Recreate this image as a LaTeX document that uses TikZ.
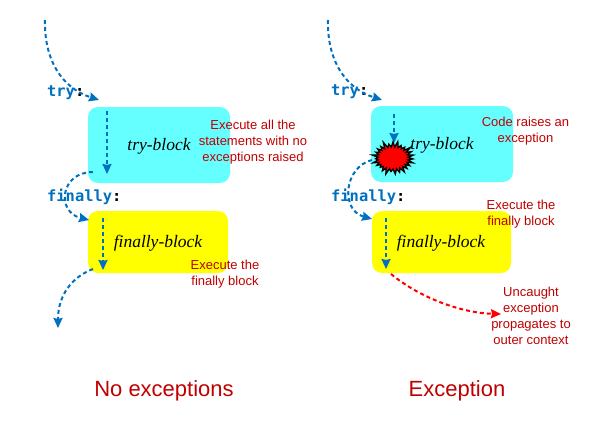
\documentclass[tikz,border=0pt]{standalone}
\usepackage{xcolor}
\usepackage{fontspec}
\setmainfont{Liberation Sans}
\newfontfamily\blockfont{Liberation Serif}
\newfontfamily\codefont{DejaVu Sans Mono}
\usepackage{tikz}
\usetikzlibrary{arrows.meta, shapes.symbols}
\definecolor{flowblue}{HTML}{0070C0}
\definecolor{notered}{HTML}{C00000}
\definecolor{tryfill}{HTML}{66FFFF}
\definecolor{finfill}{HTML}{FFFF00}
\definecolor{outred}{HTML}{FF0000}

\begin{document}
\begin{tikzpicture}[x=1pt, y=-1pt,
	blockbox/.style={rounded corners=10pt, inner sep=0pt},
	blocktext/.style={font=\blockfont\itshape\fontsize{17.5}{20}\selectfont, inner sep=0pt},
	codetext/.style={font=\codefont\bfseries\fontsize{15.4}{18}\selectfont, text=flowblue, anchor=west, inner sep=0pt},
	note/.style={font=\fontsize{13}{16}\selectfont, text=notered, align=center, inner sep=0pt},
	headline/.style={font=\fontsize{22}{26}\selectfont, text=notered, inner sep=0pt},
	flow/.style={draw=flowblue, line width=2pt, dash pattern=on 4pt off 3pt, -{Stealth[length=10pt, width=9pt, inset=1pt]}},
	escape/.style={flow, draw=outred},
	]
	
	\useasboundingbox (0,0) rectangle (615,436);
	
	% blocks
	\node[blockbox, fill=tryfill, minimum width=142pt, minimum height=76pt] (trya) at (159,145) {};
	\node[blockbox, fill=finfill, minimum width=140pt, minimum height=62pt] (fina) at (158,242) {};
	\node[blockbox, fill=tryfill, minimum width=142pt, minimum height=76pt] (tryb) at (442,144) {};
	\node[blockbox, fill=finfill, minimum width=139pt, minimum height=62pt] (finb) at (441.5,242) {};
	
	\node[blocktext] (trytexta) at (159,146) {try-block};
	\node[blocktext] (fintexta) at (158,243) {finally-block};
	\node[blocktext] (trytextb) at (442,145) {try-block};
	\node[blocktext] (fintextb) at (441,243) {finally-block};
	
	% code lines
	\node[codetext] (trycodea) at (47,92.5) {try\textcolor{black}{:}};
	\node[codetext] (fincodea) at (47,197) {finally\textcolor{black}{:}};
	\node[codetext] (trycodeb) at (331,91.5) {try\textcolor{black}{:}};
	\node[codetext] (fincodeb) at (331,197) {finally\textcolor{black}{:}};
	
	% left path
	\coordinate (starta) at (45,20);
	\coordinate (entrya) at (99,100);
	\coordinate (topa) at (107,111);
	\coordinate (bota) at (107,174);
	\coordinate (leavea) at (93,172);
	\coordinate (enterfina) at (89,220);
	\coordinate (topfina) at (103,218);
	\coordinate (botfina) at (103,270);
	\coordinate (leavefina) at (93,269);
	\coordinate (enda) at (58,328);
	
	\draw[flow] (starta) .. controls (44,60) and (62,88) .. (entrya);
	\draw[flow] (topa) -- (bota);
	\draw[flow] (leavea) .. controls (60,172) and (56,212) .. (enterfina);
	\draw[flow] (topfina) -- (botfina);
	\draw[flow] (leavefina) .. controls (72,277) and (58,295) .. (enda);
	
	% right path
	\coordinate (startb) at (328,20);
	\coordinate (entryb) at (382,100);
	\coordinate (topb) at (394,114);
	\coordinate (botb) at (394,143);
	\coordinate (leaveb) at (372,160);
	\coordinate (enterfinb) at (372,219);
	\coordinate (topfinb) at (386,218);
	\coordinate (botfinb) at (386,269);
	\coordinate (leavefinb) at (391,274);
	\coordinate (endb) at (501,314);
	
	\draw[flow] (startb) .. controls (327,60) and (345,88) .. (entryb);
	\draw[flow] (topb) -- (botb);
	\draw[flow] (leaveb) .. controls (344,167) and (340,210) .. (enterfinb);
	\draw[flow] (topfinb) -- (botfinb);
	\draw[escape] (leavefinb) .. controls (420,298) and (462,313) .. (endb);
	
	% the exception
	\node[starburst, starburst points=27, starburst point height=7pt, fill=red, draw=black, line width=1.3pt, minimum width=44pt, minimum height=36pt, inner sep=0pt] (burst) at (393,158) {};
	
	% notes
	\node[note] (notetrya) at (253,142) {Execute all the\\statements with no\\exceptions raised};
	\node[note] (notefina) at (225,274) {Execute the\\finally block};
	\node[note] (notetryb) at (525.5,131.5) {Code raises an\\exception};
	\node[note] (notefinb) at (521,214.5) {Execute the\\finally block};
	\node[note] (noteout) at (531,315.5) {Uncaught\\exception\\propagates to\\outer context};
	
	\node[headline] (heada) at (164,391) {No exceptions};
	\node[headline] (headb) at (457,391) {Exception};
	
\end{tikzpicture}
\end{document}
